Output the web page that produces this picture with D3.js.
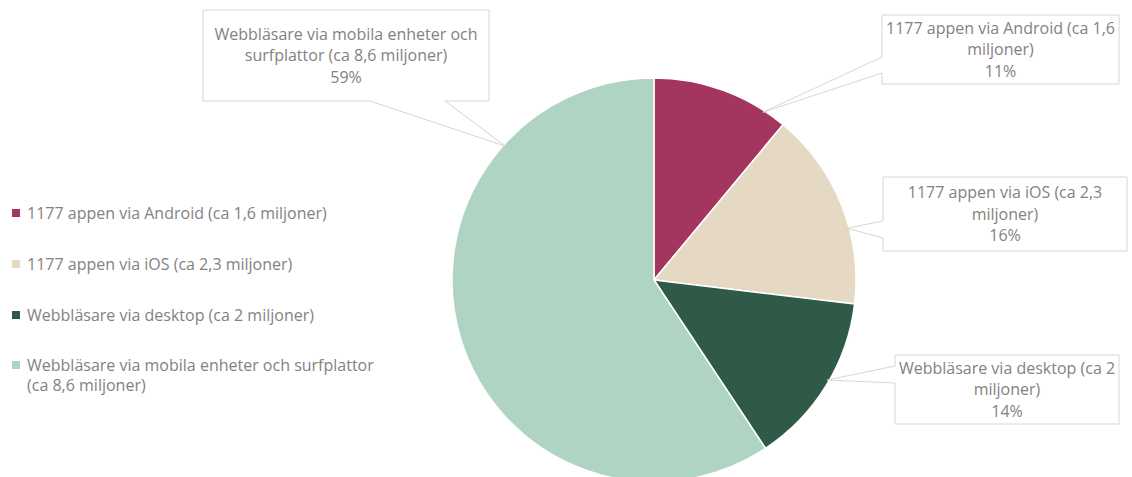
<!DOCTYPE html>
<html>
<head>
<meta charset="utf-8">
<script src="https://cdn.jsdelivr.net/npm/d3@7"></script>
<style>
  body { margin: 0; background: #fff; }
  text { font-family: "Open Sans", sans-serif; }
</style>
</head>
<body>
<div id="chart"></div>
<script>
// Data
const categories = [
  "1177 appen via Android (ca 1,6 miljoner)",
  "1177 appen via iOS (ca 2,3 miljoner)",
  "Webbläsare via desktop (ca 2 miljoner)",
  "Webbläsare via mobila enheter och surfplattor (ca 8,6 miljoner)"
];
const values = [1.6, 2.3, 2, 8.6];
const percentLabels = ["11%", "16%", "14%", "59%"];
const colors = ["#a3355f", "#e6d9c3", "#2f5a48", "#b0d4c3"];

// label text lines inside callouts (as wrapped in the original)
const calloutLines = [
  ["1177 appen via Android (ca 1,6", "miljoner)"],
  ["1177 appen via iOS (ca 2,3", "miljoner)"],
  ["Webbläsare via desktop (ca 2", "miljoner)"],
  ["Webbläsare via mobila enheter och", "surfplattor (ca 8,6 miljoner)"]
];
const legendLines = [
  ["1177 appen via Android (ca 1,6 miljoner)"],
  ["1177 appen via iOS (ca 2,3 miljoner)"],
  ["Webbläsare via desktop (ca 2 miljoner)"],
  ["Webbläsare via mobila enheter och surfplattor", "(ca 8,6 miljoner)"]
];

const width = 1132, height = 477;
const cx = 654, cy = 280, radius = 202;

// callout boxes: position, pointer base on box edge, tip angle on the pie edge (degrees)
const callouts = [
  { x: 882, y: 15, w: 237, h: 69, side: "left", b1: 57, b2: 73, tipDeg: 33 },
  { x: 883, y: 177, w: 244, h: 74, side: "left", b1: 221, b2: 238, tipDeg: 75 },
  { x: 895, y: 355, w: 224, h: 69, side: "left", b1: 366, b2: 383, tipDeg: 120 },
  { x: 203, y: 10, w: 286, h: 91, side: "bottom", b1: 370, b2: 445, tipDeg: 312 }
];

const svg = d3.select("#chart").append("svg")
  .attr("width", width)
  .attr("height", height);

const pie = d3.pie().sort(null).value(d => d);
const arcs = pie(values);
const arc = d3.arc().innerRadius(0).outerRadius(radius);

const g = svg.append("g").attr("transform", `translate(${cx},${cy})`);

g.selectAll("path")
  .data(arcs)
  .join("path")
  .attr("d", arc)
  .attr("fill", (d, i) => colors[i])
  .attr("stroke", "#fff")
  .attr("stroke-width", 1.5);

// callouts
callouts.forEach((c, i) => {
  const a = c.tipDeg * Math.PI / 180;
  const tx = cx + (radius - 2) * Math.sin(a);
  const ty = cy - (radius - 2) * Math.cos(a);
  let p;
  if (c.side === "left") {
    p = `M${c.x},${c.y}H${c.x + c.w}V${c.y + c.h}H${c.x}V${c.b2}L${tx},${ty}L${c.x},${c.b1}Z`;
  } else {
    p = `M${c.x},${c.y}H${c.x + c.w}V${c.y + c.h}H${c.b2}L${tx},${ty}L${c.b1},${c.y + c.h}H${c.x}Z`;
  }
  svg.append("path")
    .attr("d", p)
    .attr("fill", "#fff")
    .attr("stroke", "#d6d6d6")
    .attr("stroke-width", 1);

  const lines = calloutLines[i].concat([percentLabels[i]]);
  const lineH = 21.5;
  const startY = c.y + c.h / 2 - (lines.length - 1) * lineH / 2;
  svg.append("text")
    .attr("x", c.x + c.w / 2)
    .attr("text-anchor", "middle")
    .attr("font-size", 16)
    .attr("fill", "#828282")
    .selectAll("tspan")
    .data(lines)
    .join("tspan")
    .attr("x", c.x + c.w / 2)
    .attr("y", (d, j) => startY + j * lineH)
    .attr("dy", "0.35em")
    .text(d => d);
});

// legend
const legendY = [213, 264, 315, 365];
const legend = svg.append("g");
categories.forEach((cat, i) => {
  legend.append("rect")
    .attr("x", 12)
    .attr("y", legendY[i] - 4)
    .attr("width", 8)
    .attr("height", 8)
    .attr("fill", colors[i]);
  legend.append("text")
    .attr("font-size", 16)
    .attr("fill", "#828282")
    .selectAll("tspan")
    .data(legendLines[i])
    .join("tspan")
    .attr("x", 27)
    .attr("y", (d, j) => legendY[i] + j * 20)
    .attr("dy", "0.35em")
    .text(d => d);
});
</script>
</body>
</html>
